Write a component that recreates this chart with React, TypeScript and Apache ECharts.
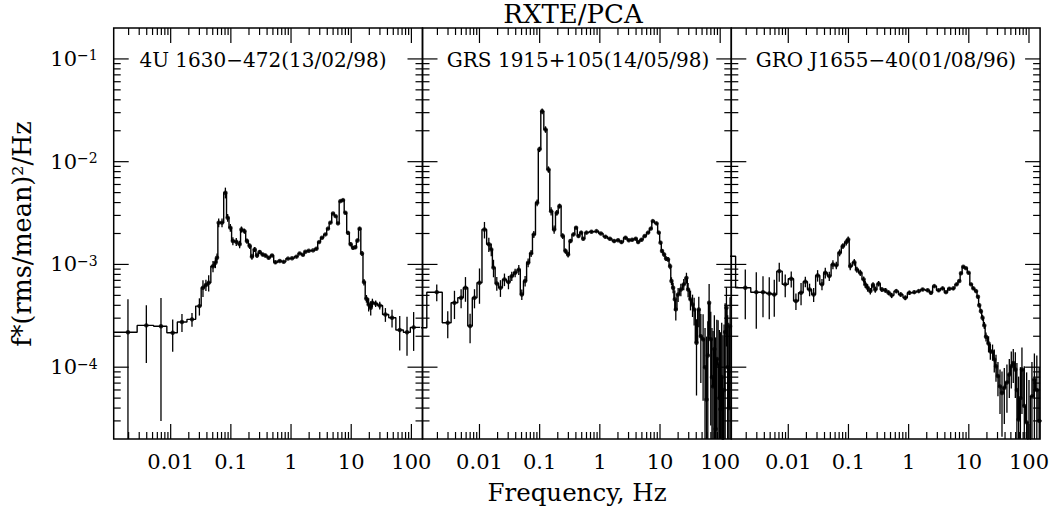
import { useEffect, useRef } from "react";
import * as echarts from "echarts";

// ---- axis ranges / tick labels ----
const X_MIN = 0.00113;
const X_MAX = 153;
const Y_MIN = 2e-5;
const Y_MAX = 0.2;
const xMajorTicks = [0.01, 0.1, 1, 10, 100];
const yMajorTicks = [1e-4, 1e-3, 1e-2, 1e-1];

const panelNames = ["4U 1630\u2212472(13/02/98)", "GRS 1915+105(14/05/98)", "GRO J1655\u221240(01/08/96)"];
const mainTitle = "RXTE/PCA";
const xTitle = "Frequency, Hz";
const yTitle = "f*(rms/mean)\u00b2/Hz";

// ---- data: [frequency Hz, power, 1-sigma error] ----
const spec4U1630: number[][] = [
  [0.00195, 2.19e-4, 2.4e-4], [0.00394, 2.55e-4, 1.45e-4], [0.0069, 2.5e-4, 2.2e-4],
  [0.0108, 2.16e-4, 7.5e-5], [0.0154, 2.75e-4, 5.5e-5], [0.0226, 2.92e-4, 4.5e-5],
  [0.03, 3.93e-4, 7.5e-5], [0.0344, 5.93e-4, 1.1e-4], [0.0385, 6.3e-4, 8e-5],
  [0.0428, 6.64e-4, 1.2e-4], [0.0505, 9.6e-4, 1.2e-4], [0.0553, 1.04e-3, 1.2e-4],
  [0.0589, 1.16e-3, 1.2e-4], [0.0628, 2.55e-3, 2.5e-4], [0.0713, 2.55e-3, 2.5e-4],
  [0.0811, 4.99e-3, 6e-4], [0.0885, 2.85e-3, 2.5e-4], [0.098, 2.28e-3, 2e-4],
  [0.108, 1.69e-3, 1.5e-4], [0.123, 1.66e-3, 1.5e-4], [0.14, 1.57e-3, 1.3e-4],
  [0.15, 2.19e-3, 1.5e-4], [0.168, 2.11e-3, 1.2e-4], [0.185, 1.69e-3, 1e-4],
  [0.206, 1.51e-3, 1e-4], [0.224, 1.19e-3, 8e-5], [0.249, 1.4e-3, 8e-5],
  [0.272, 1.22e-3, 6e-5], [0.301, 1.32e-3, 6e-5], [0.338, 1.25e-3, 5e-5],
  [0.375, 1.22e-3, 5e-5], [0.425, 1.16e-3, 4e-5], [0.483, 1.22e-3, 4e-5],
  [0.55, 1.05e-3, 4e-5], [0.648, 1.08e-3, 3e-5], [0.755, 1.06e-3, 3e-5],
  [0.891, 1.14e-3, 3e-5], [1.04, 1.15e-3, 3e-5], [1.23, 1.19e-3, 3e-5],
  [1.39, 1.28e-3, 3e-5], [1.58, 1.24e-3, 3e-5], [1.73, 1.33e-3, 3e-5],
  [1.97, 1.36e-3, 3e-5], [2.32, 1.37e-3, 3e-5], [2.64, 1.42e-3, 4e-5],
  [2.92, 1.65e-3, 4e-5], [3.27, 1.82e-3, 5e-5], [3.72, 1.96e-3, 5e-5],
  [4.11, 2.23e-3, 6e-5], [4.51, 2.55e-3, 7e-5], [4.99, 3.13e-3, 8e-5],
  [5.52, 2.95e-3, 8e-5], [6.03, 2.51e-3, 8e-5], [6.61, 4.13e-3, 1e-4],
  [7.31, 4.23e-3, 1e-4], [8.0, 3.18e-3, 1e-4], [8.85, 2.03e-3, 8e-5],
  [9.8, 1.57e-3, 7e-5], [10.7, 1.45e-3, 6e-5], [11.7, 1.47e-3, 6e-5],
  [12.7, 1.71e-3, 7e-5], [13.8, 2.23e-3, 8e-5], [15.1, 1.28e-3, 7e-5],
  [16.3, 6.73e-4, 5e-5], [17.9, 4.64e-4, 4e-5], [19.5, 4.08e-4, 6e-5],
  [21.1, 3.79e-4, 6e-5], [22.5, 4.24e-4, 4e-5], [25.5, 4.15e-4, 3e-5],
  [29.8, 3.99e-4, 3.5e-5], [37, 3.26e-4, 5e-5], [47.7, 3.03e-4, 6e-5],
  [64, 2.3e-4, 8.5e-5], [84.6, 2.19e-4, 9e-5], [109, 2.44e-4, 1e-4],
];

const specGRS1915: number[][] = [
  [0.00091, 2.42e-4, 6e-5], [0.00195, 5.37e-4, 1e-4], [0.00297, 2.71e-4, 8e-5],
  [0.00384, 4.24e-4, 1.3e-4], [0.00495, 4.74e-4, 1e-4], [0.00585, 5.93e-4, 1.6e-4],
  [0.00698, 2.51e-4, 8e-5], [0.00826, 4.74e-4, 1e-4], [0.01, 6.64e-4, 2.5e-4],
  [0.0121, 2.19e-3, 4e-4], [0.0143, 1.57e-3, 2.5e-4], [0.0157, 1.4e-3, 2e-4],
  [0.0171, 9.3e-4, 1.8e-4], [0.0194, 6.53e-4, 1e-4], [0.0223, 5.93e-4, 1.1e-4],
  [0.026, 7.15e-4, 1e-4], [0.0303, 6.73e-4, 1e-4], [0.0344, 7.7e-4, 8e-5],
  [0.0391, 8.3e-4, 8e-5], [0.045, 8.9e-4, 1e-4], [0.0505, 5.1e-4, 6e-5],
  [0.0573, 6.9e-4, 8e-5], [0.0643, 1.04e-3, 1e-4], [0.0721, 1.28e-3, 1e-4],
  [0.08, 1.96e-3, 1.5e-4], [0.0908, 3.98e-3, 3e-4], [0.0993, 1.32e-2, 8e-4],
  [0.11, 3.1e-2, 2e-3], [0.125, 2.06e-2, 1.5e-3], [0.14, 8.4e-3, 6e-4],
  [0.155, 3.3e-3, 3e-4], [0.174, 2.19e-3, 2e-4], [0.193, 3.18e-3, 2e-4],
  [0.214, 3.7e-3, 2e-4], [0.242, 1.89e-3, 1.2e-4], [0.269, 1.35e-3, 8e-5],
  [0.297, 1.25e-3, 8e-5], [0.325, 1.69e-3, 8e-5], [0.365, 1.96e-3, 8e-5],
  [0.403, 2.28e-3, 8e-5], [0.442, 1.89e-3, 7e-5], [0.489, 2.04e-3, 7e-5],
  [0.53, 1.78e-3, 6e-5], [0.6, 2.04e-3, 6e-5], [0.726, 2.08e-3, 6e-5],
  [0.879, 2.11e-3, 6e-5], [1.04, 2.0e-3, 6e-5], [1.24, 1.86e-3, 6e-5],
  [1.47, 1.78e-3, 6e-5], [1.73, 1.69e-3, 6e-5], [2.01, 1.72e-3, 6e-5],
  [2.29, 1.65e-3, 6e-5], [2.67, 1.82e-3, 6e-5], [3.03, 1.72e-3, 6e-5],
  [3.44, 1.74e-3, 6e-5], [3.96, 1.78e-3, 6e-5], [4.33, 1.65e-3, 6e-5],
  [4.92, 1.74e-3, 6e-5], [5.59, 1.89e-3, 6e-5], [6.34, 2.04e-3, 6e-5],
  [7.03, 2.23e-3, 7e-5], [7.59, 2.64e-3, 8e-5], [8.75, 2.51e-3, 8e-5],
  [9.55, 2.04e-3, 7e-5], [10.2, 1.63e-3, 6e-5], [10.8, 1.35e-3, 6e-5],
  [11.7, 1.25e-3, 6e-5], [12.6, 1.14e-3, 6e-5], [13.6, 1.12e-3, 6e-5],
  [14.7, 9.6e-4, 6e-5], [15.5, 6.9e-4, 6e-5], [16.5, 5.93e-4, 7e-5],
  [17.6, 4.57e-4, 1e-4], [18.3, 3.65e-4, 8e-5], [20, 5.1e-4, 8e-5],
  [22.2, 5.7e-4, 8e-5], [24.8, 6.4e-4, 8e-5], [27.5, 7.4e-4, 9e-5],
  [29.3, 5.7e-4, 9e-5], [32.1, 4.57e-4, 1e-4], [34.7, 4.08e-4, 1e-4],
  [36.9, 3.65e-4, 1.1e-4], [40.4, 1.73e-4, 1.2e-4], [44.1, 3.65e-4, 1.2e-4],
  [47.7, 2.0e-4, 1.3e-4], [52, 1.87e-4, 1.4e-4], [56, 1.0e-4, 1.4e-4],
  [59.3, 4.85e-5, 1.5e-4], [62.3, 1.3e-4, 1.5e-4], [65.5, 4.24e-4, 2.2e-4],
  [69.7, 1.87e-4, 1.6e-4], [73, 8e-5, 1.6e-4], [76.2, 6.5e-5, 1.6e-4],
  [80, 1.5e-4, 1.7e-4], [84, 2.5e-5, 1.7e-4], [88, 1.2e-4, 1.7e-4],
  [92.3, 1.06e-4, 1.8e-4], [97, 5e-5, 1.8e-4], [101, 3.9e-5, 1.8e-4],
  [106, 8e-5, 1.9e-4], [111, 1.5e-5, 1.9e-4], [116, 6e-5, 2e-4],
  [121, 2.2e-4, 2e-4], [127, 3.79e-4, 2.2e-4], [133, 1.0e-4, 2.2e-4],
  [139, 4e-5, 2.3e-4], [146, 2.5e-4, 2.3e-4],
];

const specGRO1655: number[][] = [
  [0.00092, 1.2e-3, 3e-4], [0.00193, 5.93e-4, 3e-4], [0.00294, 5.37e-4, 3e-4],
  [0.0038, 5.37e-4, 2.3e-4], [0.00483, 5.22e-4, 2.3e-4], [0.00585, 5.1e-4, 2e-4],
  [0.00708, 8.6e-4, 1.8e-4], [0.0089, 6.4e-4, 1.6e-4], [0.0112, 7.25e-4, 1.3e-4],
  [0.0134, 4.4e-4, 8e-5], [0.0163, 5.3e-4, 1.3e-4], [0.0192, 6.8e-4, 8e-5],
  [0.0226, 5.7e-4, 8e-5], [0.0264, 5.1e-4, 8e-5], [0.0307, 7.8e-4, 1e-4],
  [0.0363, 6.4e-4, 8e-5], [0.0412, 8.3e-4, 1e-4], [0.048, 7.7e-4, 8e-5],
  [0.0552, 1.0e-3, 1e-4], [0.0628, 9.8e-4, 8e-5], [0.0713, 1.3e-3, 1e-4],
  [0.081, 1.51e-3, 1e-4], [0.092, 1.65e-3, 1.2e-4], [0.099, 1.75e-3, 1.2e-4],
  [0.107, 9.6e-4, 8e-5], [0.125, 1.05e-3, 8e-5], [0.138, 8.9e-4, 6e-5],
  [0.157, 8.3e-4, 6e-5], [0.179, 7.15e-4, 5e-5], [0.19, 6.4e-4, 5e-5],
  [0.208, 5.93e-4, 5e-5], [0.231, 5.5e-4, 4e-5], [0.256, 6.3e-4, 4e-5],
  [0.279, 5.7e-4, 4e-5], [0.317, 6.5e-4, 4e-5], [0.36, 5.7e-4, 3e-5],
  [0.41, 5.6e-4, 3e-5], [0.465, 5.3e-4, 3e-5], [0.522, 5.0e-4, 3e-5],
  [0.623, 5.5e-4, 2.5e-5], [0.738, 5.1e-4, 2.5e-5], [0.879, 4.74e-4, 2.5e-5],
  [1.03, 5.3e-4, 2.5e-5], [1.24, 5.37e-4, 2e-5], [1.47, 5.5e-4, 2e-5],
  [1.71, 5.7e-4, 2e-5], [2.07, 5.6e-4, 2e-5], [2.35, 5.3e-4, 2e-5],
  [2.67, 6.15e-4, 2e-5], [3.15, 5.6e-4, 2e-5], [3.67, 5.85e-4, 2e-5],
  [4.17, 5.37e-4, 2e-5], [4.74, 5.8e-4, 2e-5], [5.52, 5.85e-4, 2e-5],
  [6.27, 6.4e-4, 2e-5], [6.95, 6.9e-4, 2e-5], [7.41, 8.2e-4, 2.5e-5],
  [8.1, 9.5e-4, 2.5e-5], [8.97, 9.2e-4, 2.5e-5], [9.91, 8.3e-4, 2.5e-5],
  [10.9, 6.4e-4, 2e-5], [11.9, 5.85e-4, 2e-5], [13.2, 5.5e-4, 2e-5],
  [14.2, 4.85e-4, 2e-5], [14.9, 4.0e-4, 2e-5], [15.9, 3.51e-4, 2e-5],
  [16.9, 3.03e-4, 2e-5], [18.1, 2.55e-4, 2e-5], [19.3, 1.98e-4, 2e-5],
  [21.3, 1.7e-4, 3e-5], [22.8, 1.43e-4, 2.5e-5], [24.8, 1.41e-4, 2.5e-5],
  [26.5, 1.19e-4, 3e-5], [28.3, 1.02e-4, 3e-5], [30.5, 8.2e-5, 3e-5],
  [33, 6.5e-5, 3e-5], [35.6, 5.6e-5, 3.5e-5], [38.9, 6.3e-5, 3.5e-5],
  [43, 7.1e-5, 3.5e-5], [47.1, 8.5e-5, 3.5e-5], [50.8, 1.02e-4, 4e-5],
  [54.8, 1.1e-4, 4e-5], [59.3, 9.5e-5, 4.5e-5], [63, 6e-5, 5e-5],
  [67.3, 3.1e-5, 5e-5], [72, 5e-5, 5e-5], [76.4, 9.5e-5, 6e-5],
  [83.6, 4.2e-5, 6e-5], [91.4, 2.9e-5, 6e-5], [100, 1.5e-5, 6e-5],
  [112, 5.2e-5, 6e-5], [123, 7.6e-5, 6e-5], [135, 6e-5, 7e-5],
  [148, 3e-5, 7e-5],
];

const spectra = [spec4U1630, specGRS1915, specGRO1655];

// ---- layout / style ----
const FONT = "DejaVu Serif";
const GRID_LEFT = 113.7;
const GRID_TOP = 28;
const GRID_W = 308.8;
const GRID_H = 411;
const nameCenters = [263, 578, 886];
const MAJOR_LEN = 15;
const MINOR_LEN = 7;

function minorTicks(lo: number, hi: number, kFrom: number, kTo: number) {
  const out: number[] = [];
  for (let k = kFrom; k <= kTo; k++) {
    for (let m = 2; m <= 9; m++) {
      const v = m * Math.pow(10, k);
      if (v > lo * 1.001 && v < hi * 0.999) out.push(v);
    }
  }
  return out;
}
const xMinorTicks = minorTicks(X_MIN, X_MAX, -3, 2);
const yMinorTicks = minorTicks(Y_MIN, Y_MAX, -5, -1);

function isPow10(v: number) {
  const l = Math.log10(v);
  return Math.abs(l - Math.round(l)) < 1e-6;
}

function stepData(spec: number[][]) {
  const out: number[][] = [];
  const n = spec.length;
  for (let i = 0; i < n; i++) {
    const f = spec[i][0];
    const left = i === 0 ? (f * f) / spec[1][0] : Math.sqrt(spec[i - 1][0] * f);
    const right = i === n - 1 ? (f * f) / spec[n - 2][0] : Math.sqrt(f * spec[i + 1][0]);
    out.push([left, spec[i][1]], [right, spec[i][1]]);
  }
  return out;
}

function buildOption() {
  const grid = spectra.map((_, i) => ({
    left: GRID_LEFT + i * GRID_W,
    top: GRID_TOP,
    width: GRID_W,
    height: GRID_H,
    show: true,
    borderColor: "#000",
    borderWidth: 1.5,
    backgroundColor: "transparent",
    containLabel: false,
  }));

  const xAxis = spectra.map((_, i) => ({
    type: "log",
    gridIndex: i,
    min: X_MIN,
    max: X_MAX,
    logBase: 10,
    axisLine: { show: false },
    axisTick: { show: false },
    minorTick: { show: false },
    splitLine: { show: false },
    axisLabel: {
      show: true,
      margin: 12,
      fontSize: 21,
      fontFamily: FONT,
      color: "#000",
      formatter: (v: number) => (isPow10(v) ? String(Number(v.toPrecision(3))) : ""),
    },
  }));

  const yAxis = spectra.map((_, i) => ({
    type: "log",
    gridIndex: i,
    min: Y_MIN,
    max: Y_MAX,
    logBase: 10,
    axisLine: { show: false },
    axisTick: { show: false },
    minorTick: { show: false },
    splitLine: { show: false },
    axisLabel: {
      show: i === 0,
      margin: 16,
      formatter: (v: number) => {
        if (!isPow10(v)) return "";
        const e = Math.round(Math.log10(v));
        return `{b|10}{s|\u2212${-e}}`;
      },
      rich: {
        b: { fontSize: 21, fontFamily: FONT, color: "#000" },
        s: { fontSize: 14, fontFamily: FONT, color: "#000", verticalAlign: "top" },
      },
    },
  }));

  const series: any[] = [];
  spectra.forEach((spec, i) => {
    series.push({
      type: "line",
      xAxisIndex: i,
      yAxisIndex: i,
      data: stepData(spec),
      showSymbol: false,
      symbol: "none",
      clip: true,
      silent: true,
      lineStyle: { color: "#000", width: 1.4 },
      z: 3,
    });
    series.push({
      type: "custom",
      xAxisIndex: i,
      yAxisIndex: i,
      clip: true,
      silent: true,
      data: spec,
      renderItem: (_p: any, api: any) => {
        const f = api.value(0);
        const v = api.value(1);
        const e = api.value(2);
        const lo = Math.max(v - e, Y_MIN * 0.05);
        const a = api.coord([f, lo]);
        const b = api.coord([f, v + e]);
        return {
          type: "line",
          shape: { x1: a[0], y1: a[1], x2: b[0], y2: b[1] },
          style: { stroke: "#000", lineWidth: 1.3 },
        };
      },
      z: 3,
    });
    series.push({
      type: "scatter",
      xAxisIndex: i,
      yAxisIndex: i,
      data: spec.map((d) => [d[0], d[1]]),
      symbol: "circle",
      symbolSize: 4.5,
      clip: true,
      silent: true,
      itemStyle: { color: "#000" },
      z: 4,
    });
    // x-axis ticks (bottom and top, pointing inward)
    series.push({
      type: "custom",
      xAxisIndex: i,
      yAxisIndex: i,
      silent: true,
      clip: false,
      data: [
        ...xMajorTicks.map((v) => [v, Y_MIN, 1]),
        ...xMinorTicks.map((v) => [v, Y_MIN, 0]),
      ],
      renderItem: (params: any, api: any) => {
        const cs = params.coordSys;
        const px = api.coord([api.value(0), Y_MIN])[0];
        const len = api.value(2) === 1 ? MAJOR_LEN : MINOR_LEN;
        const st = { stroke: "#000", lineWidth: 1.2 };
        return {
          type: "group",
          children: [
            { type: "line", shape: { x1: px, y1: cs.y + cs.height, x2: px, y2: cs.y + cs.height - len }, style: st },
            { type: "line", shape: { x1: px, y1: cs.y, x2: px, y2: cs.y + len }, style: st },
          ],
        };
      },
      z: 2,
    });
    // y-axis ticks (left and right, pointing inward)
    series.push({
      type: "custom",
      xAxisIndex: i,
      yAxisIndex: i,
      silent: true,
      clip: false,
      data: [
        ...yMajorTicks.map((v) => [X_MIN, v, 1]),
        ...yMinorTicks.map((v) => [X_MIN, v, 0]),
      ],
      renderItem: (params: any, api: any) => {
        const cs = params.coordSys;
        const py = api.coord([X_MIN, api.value(1)])[1];
        const len = api.value(2) === 1 ? MAJOR_LEN : MINOR_LEN;
        const st = { stroke: "#000", lineWidth: 1.2 };
        return {
          type: "group",
          children: [
            { type: "line", shape: { x1: cs.x, y1: py, x2: cs.x + len, y2: py }, style: st },
            { type: "line", shape: { x1: cs.x + cs.width, y1: py, x2: cs.x + cs.width - len, y2: py }, style: st },
          ],
        };
      },
      z: 2,
    });
  });

  const textEl = (text: string, x: number, y: number, size: number, rotation = 0) => ({
    type: "text",
    x,
    y,
    rotation,
    silent: true,
    style: {
      text,
      fill: "#000",
      font: `${size}px "${FONT}"`,
      textAlign: "center",
      textVerticalAlign: "middle",
      align: "center",
      verticalAlign: "middle",
    },
    z: 10,
  });

  const graphic = [
    textEl(mainTitle, 573, 14, 26),
    textEl(xTitle, 577, 492, 24.5),
    textEl(yTitle, 22, 234, 25.5, Math.PI / 2),
    ...panelNames.map((n, i) => textEl(n, nameCenters[i], 60, 20)),
  ];

  return {
    animation: false,
    backgroundColor: "#fff",
    textStyle: { fontFamily: FONT },
    grid,
    xAxis,
    yAxis,
    series,
    graphic,
  };
}

export default function App() {
  const ref = useRef<HTMLDivElement>(null);
  useEffect(() => {
    const chart = echarts.init(ref.current!, undefined, { renderer: "svg" });
    chart.setOption(buildOption() as any);
    return () => chart.dispose();
  }, []);
  return (
    <div
      ref={ref}
      style={{ position: "absolute", left: 0, top: 0, width: 1055, height: 509, background: "#fff" }}
    />
  );
}
